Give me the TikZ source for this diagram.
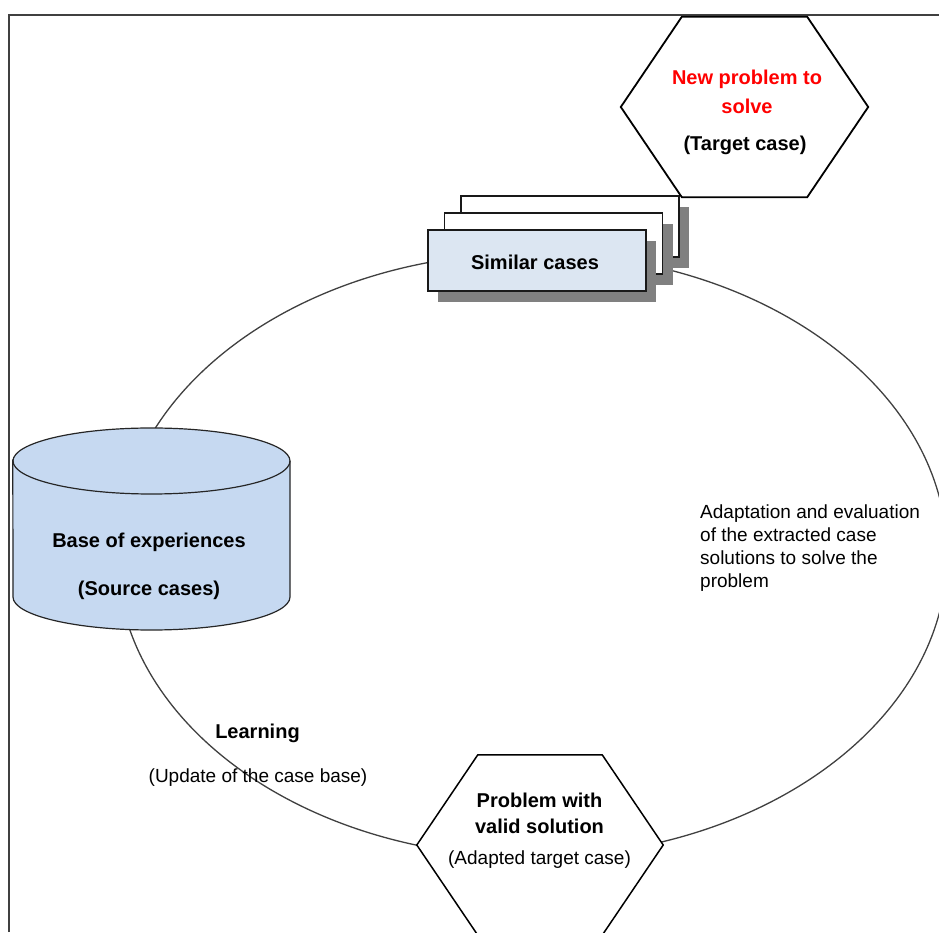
\documentclass[tikz,border=0pt]{standalone}
\usepackage{fontspec}
\setmainfont{Liberation Sans}
\usetikzlibrary{shadows}
\definecolor{cylfill}{HTML}{C6D9F1}
\definecolor{boxfill}{HTML}{DCE6F2}
\definecolor{shadowgray}{HTML}{808080}
\definecolor{loopgray}{HTML}{404040}
\definecolor{titlered}{HTML}{FF0000}

\begin{document}
\begin{tikzpicture}[x=1pt,y=1pt,
  boldtxt/.style={font=\fontsize{20}{24}\selectfont\bfseries, inner sep=0pt},
  plaintxt/.style={font=\fontsize{19}{23}\selectfont, inner sep=0pt},
  hexframe/.style={draw=none, minimum width=247pt, minimum height=180pt, inner sep=0pt},
  hexline/.style={draw=black, line width=1.8pt, fill=white, line join=miter},
  card/.style={draw=black!90, line width=1.3pt, minimum width=218pt, minimum height=61pt,
    inner sep=0pt,
    drop shadow={shadow xshift=10pt, shadow yshift=-11pt, fill=shadowgray, opacity=1}},
]
\useasboundingbox (0,0) rectangle (939,932);
\clip (0,0) rectangle (939,932);
\fill[white] (0,0) rectangle (939,932);

% outer frame (top and left edges)
\draw[loopgray, line width=1.3pt] (9,0) -- (9,917) -- (940,917);

% reasoning cycle
\draw[loopgray, line width=1.3pt] (532,377) ellipse [x radius=415, y radius=302];

% case base cylinder
\node[minimum width=277pt, minimum height=202pt, inner sep=0pt] (base) at (151.5,403) {};
\filldraw[fill=cylfill, draw=black!85, line width=1.2pt]
  (base.north west) ++(0,-33) -- (13,335)
  arc[start angle=180, end angle=360, x radius=138.5, y radius=33] -- (290,471)
  arc[start angle=0, end angle=180, x radius=138.5, y radius=33] -- cycle;
\draw[black!85, line width=1.2pt] (13,471)
  arc[start angle=180, end angle=360, x radius=138.5, y radius=33];

% stack of retrieved cases
\node[card, fill=white] (stackback) at (570,705.5) {};
\node[card, fill=white] (stackmid) at (553.5,688.5) {};
\node[card, fill=boxfill] (similar) at (537,671.5) {};

% target problem
\node[hexframe] (target) at (744.5,825) {};
\draw[hexline] (target.west) -- ([xshift=61pt]target.north west)
  -- ([xshift=-61pt]target.north east) -- (target.east)
  -- ([xshift=-61pt]target.south east) -- ([xshift=61pt]target.south west) -- cycle;

% solved problem
\node[hexframe, minimum width=246pt] (solved) at (540,87) {};
\draw[hexline, line width=1.5pt] (solved.west) -- ([xshift=61pt]solved.north west)
  -- ([xshift=-61pt]solved.north east) -- (solved.east)
  -- ([xshift=-61pt]solved.south east) -- ([xshift=61pt]solved.south west) -- cycle;

% labels
\node[boldtxt, text=titlered] (t1) at (747,853) {New problem to};
\node[boldtxt, text=titlered] (t2) at (747,826) {solve};
\node[boldtxt] (t3) at (745,787) {(Target case)};
\node[boldtxt] (sim) at (535,670) {Similar cases};
\node[boldtxt] (b1) at (149,390) {Base of experiences};
\node[boldtxt] (b2) at (149,342) {(Source cases)};
\node[plaintxt, align=left, anchor=north west] (adapt) at (700,427)
  {Adaptation and evaluation\\of the extracted case\\solutions to solve the\\problem};
\node[boldtxt] (learn) at (257.5,199) {Learning};
\node[plaintxt] (update) at (258,154) {(Update of the case base)};
\node[boldtxt] (p1) at (539.5,132) {Problem with};
\node[boldtxt] (p2) at (539.5,106) {valid solution};
\node[plaintxt] (p3) at (539.5,72) {(Adapted target case)};
\end{tikzpicture}
\end{document}
